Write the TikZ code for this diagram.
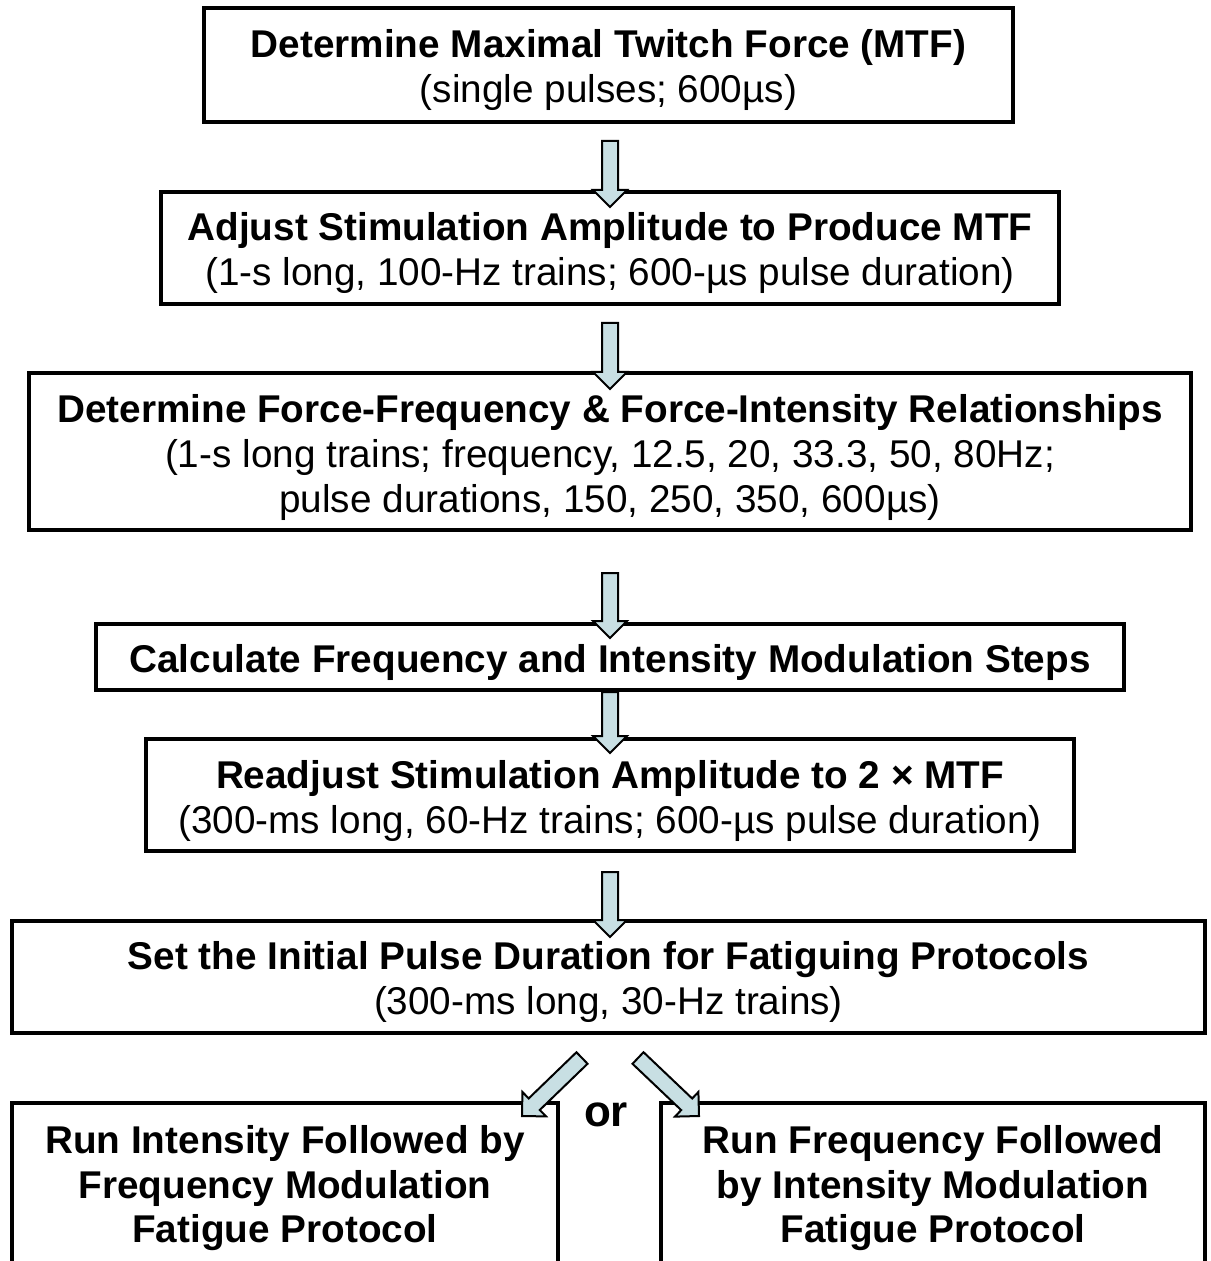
\documentclass[tikz,border=0pt]{standalone}
\usepackage{fontspec}
\setmainfont{Liberation Sans}
\usetikzlibrary{calc}
\definecolor{arrowfill}{RGB}{200,223,227}
\tikzset{
  box/.style={draw=black, line width=2pt, inner sep=0pt, fill=white},
  txt/.style={align=center, inner sep=0pt, font=\fontsize{19.35}{22.5}\selectfont},
  btxt/.style={txt, font=\fontsize{19.35}{22.25}\selectfont\bfseries},
  bsize/.style 2 args={minimum width=#1*0.5pt, minimum height=#2*0.5pt},
  blockarrowstyle/.style={draw=black, fill=arrowfill, line width=1pt, line join=miter},
  ortext/.style={font=\fontsize{22}{26}\selectfont\bfseries, inner sep=0pt}
}
\newcommand{\blockarrow}[2]{%
  \path[blockarrowstyle] let \p3=($(#2)!8.5pt!(#1)$) in
    ($(#1)!4pt!90:(#2)$) -- ($(\p3)!4pt!90:(#2)$) -- ($(\p3)!8.5pt!90:(#2)$) -- (#2)
    -- ($(\p3)!8.5pt!-90:(#2)$) -- ($(\p3)!4pt!-90:(#2)$) -- ($(#1)!4pt!-90:(#2)$) -- cycle;}
\begin{document}
\begin{tikzpicture}[x=0.5pt, y=-0.5pt]
\useasboundingbox[fill=white] (0,0) rectangle (1210,1261);

% boxes
\node[box, bsize={809}{114}] (b1) at (608.5,65) {};
\node[box, bsize={898}{112}] (b2) at (610,248) {};
\node[box, bsize={1162}{157}] (b3) at (610,451.5) {};
\node[box, bsize={1028}{66}] (b4) at (610,657) {};
\node[box, bsize={928}{112}] (b5) at (610,795) {};
\node[box, bsize={1193}{112}] (b6) at (608.5,977) {};
\node[box, bsize={546}{164}] (b7) at (285,1185) {};
\node[box, bsize={544}{164}] (b8) at (933,1185) {};

% texts
\node[txt] (t1) at ($(b1.center)+(0,5)$)
  {\textbf{Determine Maximal Twitch Force (MTF)}\\(single pulses; 600µs)};
\node[txt] (t2) at ($(b2.center)+(0,5)$)
  {\textbf{Adjust Stimulation Amplitude to Produce MTF}\\(1-s long, 100-Hz trains; 600-µs pulse duration)};
\node[txt] (t3) at ($(b3.center)+(0,6)$)
  {\textbf{Determine Force-Frequency \& Force-Intensity Relationships}\\(1-s long trains; frequency, 12.5, 20, 33.3, 50, 80Hz;\\pulse durations, 150, 250, 350, 600µs)};
\node[txt] (t4) at ($(b4.center)+(0,5)$)
  {\textbf{Calculate Frequency and Intensity Modulation Steps}};
\node[txt] (t5) at ($(b5.center)+(0,6)$)
  {\textbf{Readjust Stimulation Amplitude to 2 × MTF}\\(300-ms long, 60-Hz trains; 600-µs pulse duration)};
\node[txt] (t6) at ($(b6.center)+(0,5)$)
  {\textbf{Set the Initial Pulse Duration for Fatiguing Protocols}\\(300-ms long, 30-Hz trains)};
\node[btxt] (t7) at ($(b7.center)+(0,3.5)$)
  {Run Intensity Followed by\\Frequency Modulation\\Fatigue Protocol};
\node[btxt] (t8) at ($(b8.center)+(0,3.5)$)
  {Run Frequency Followed\\by Intensity Modulation\\Fatigue Protocol};
\node[ortext] (or) at (606,1115) {or};

% connectors
\coordinate (a1s) at (610,141);  \coordinate (a1e) at (610,207);
\coordinate (a2s) at (610,323);  \coordinate (a2e) at (610,389);
\coordinate (a3s) at (610,573);  \coordinate (a3e) at (610,638);
\coordinate (a4s) at (610,692);  \coordinate (a4e) at (610,753);
\coordinate (a5s) at (610,872);  \coordinate (a5e) at (610,937);
\coordinate (a6s) at (582,1058); \coordinate (a6e) at (522,1116);
\coordinate (a7s) at (638,1058); \coordinate (a7e) at (699,1116);

\blockarrow{a1s}{a1e}
\blockarrow{a2s}{a2e}
\blockarrow{a3s}{a3e}
\blockarrow{a4s}{a4e}
\blockarrow{a5s}{a5e}
\blockarrow{a6s}{a6e}
\blockarrow{a7s}{a7e}
\end{tikzpicture}
\end{document}
